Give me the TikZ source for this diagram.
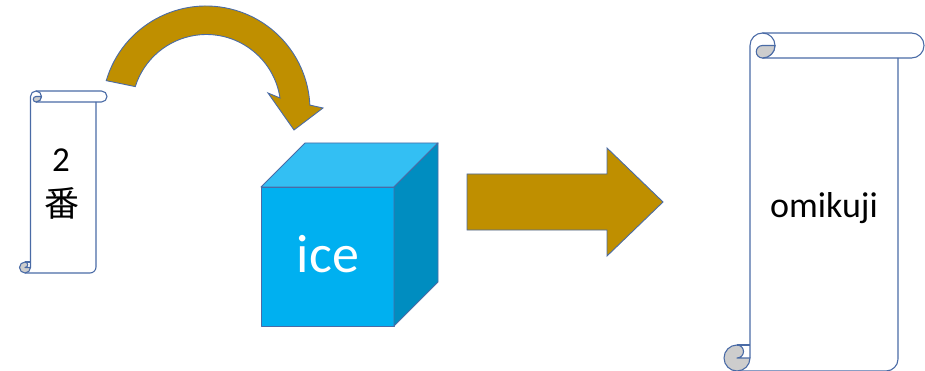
\documentclass[tikz,border=0pt]{standalone}
\usepackage{fontspec}
\setmainfont{Carlito}
\newfontfamily\cjkjp{Noto Sans CJK JP}
\definecolor{edgeblue}{HTML}{4A6BA6}
\definecolor{gold}{HTML}{BF8F00}
\definecolor{curl}{HTML}{CDCDCD}
\definecolor{cubefront}{HTML}{00B0F0}
\definecolor{cubetop}{HTML}{33BFF3}
\definecolor{cubeside}{HTML}{008DC0}
\tikzset{
  scrolledge/.style={draw=edgeblue,line width=1.1pt,line join=round},
  arrowshape/.style={fill=gold,draw=edgeblue,line width=0.9pt,line join=miter},
  cubeface/.style={draw=edgeblue,line width=0.9pt,line join=round},
}
% #1 left, #2 right, #3 bar right, #4 top, #5 bar bottom, #6 bottom, #7 top curl r, #8 bottom curl r, #9 corner r
\newcommand{\scrollshape}[9]{%
  \pgfmathsetmacro{\tr}{#7}\pgfmathsetmacro{\br}{#8}\pgfmathsetmacro{\cr}{#9}
  \pgfmathsetmacro{\barr}{(#5-#4)/2}
  \fill[white] (#1,#4) rectangle (#2,#6);
  \draw[scrolledge] (#1,#6-\br) -- (#1,#4+\tr) arc[start angle=180,end angle=270,radius=\tr pt]
     -- (#3-\barr,#4) arc[start angle=-90,end angle=90,radius=\barr pt]
     -- (#1+\tr,#5);
  \draw[scrolledge] (#2,#5) -- (#2,#6-\cr) arc[start angle=0,end angle=90,radius=\cr pt] -- (#1-\br,#6);
  \draw[scrolledge] (#1+\tr,#4) arc[start angle=-90,end angle=90,radius=\tr pt];
  \draw[scrolledge,fill=curl] (#1+2*\tr,#4+\tr) -- (#1+\tr,#4+\tr)
     arc[start angle=270,end angle=90,radius=\tr/2 pt]
     arc[start angle=90,end angle=0,radius=\tr pt] -- cycle;
  \draw[scrolledge,fill=curl] (#1-\br,#6-\br) -- (#1,#6-\br)
     arc[start angle=0,end angle=270,radius=\br pt]
     arc[start angle=270,end angle=450,radius=\br/2 pt] -- cycle;
  \draw[scrolledge] (#1-\br,#6-2*\br) -- (#1,#6-2*\br);
}
\begin{document}
\begin{tikzpicture}[x=1pt,y=1pt,yscale=-1]
\useasboundingbox (0,0) rectangle (925,371);
% curved arrow
\draw[arrowshape] (206,110) ++(-163.6:104) arc[start angle=-163.6,end angle=-2.7,radius=104pt]
  -- (323,108) -- (294,130) -- (268,93) -- (280,98)
  arc[start angle=-8.5,end angle=-162.5,radius=74.5pt] -- cycle;
% small scroll
\scrollshape{30.5}{96}{107}{91}{102}{273}{5.5}{5.5}{6}
\node[font=\fontsize{35}{35}\selectfont] (two) at (61,160) {2};
\node[font=\fontsize{35}{35}\selectfont\cjkjp] (ban) at (62,203) {番};
% cube
\draw[cubeface,fill=cubefront] (261,187) rectangle (394,326);
\draw[cubeface,fill=cubetop] (261,187) -- (305,143) -- (438,143) -- (394,187) -- cycle;
\draw[cubeface,fill=cubeside] (394,187) -- (438,143) -- (438,282) -- (394,326) -- cycle;
\node[text=white,font=\fontsize{54}{54}\selectfont] (ice) at (328,254) {ice};
% straight arrow
\draw[arrowshape] (467,174) -- (607,174) -- (607,148) -- (663,202) -- (607,256) -- (607,230) -- (467,230) -- cycle;
% large scroll
\scrollshape{750}{898}{924}{33}{58}{371}{12.5}{13}{12}
\node[font=\fontsize{36}{36}\selectfont] (omikuji) at (824,208) {omikuji};
\end{tikzpicture}
\end{document}
